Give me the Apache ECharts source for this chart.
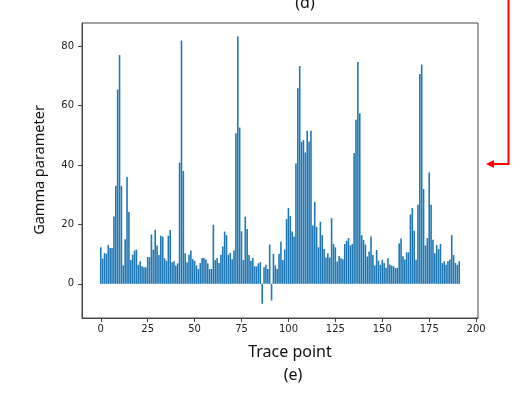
<!DOCTYPE html>
<html>
<head>
<meta charset="utf-8">
<script src="https://cdn.jsdelivr.net/npm/echarts@6/dist/echarts.min.js"></script>
<style>
html,body{margin:0;padding:0;background:#fff;}
#chart{width:528px;height:393px;}
</style>
</head>
<body>
<div id="chart"></div>
<script>
// Gamma parameter per trace point (index 0..191)
var gammaValues = [
  12.3, 8.5, 10.4, 10.1, 13.1, 12.1, 12.1, 22.7, 33, 65.4,
  77, 33, 6.2, 15, 36, 24.2, 8, 9.8, 11.2, 11.5,
  6.4, 7.6, 5.9, 5.6, 5.6, 9, 9, 16.6, 11.5, 18.2,
  12.9, 9.7, 16.2, 15.9, 8.6, 7.8, 16.2, 18.1, 7.3, 7.6,
  6.2, 6.9, 40.8, 81.9, 38, 10.3, 7.3, 9.8, 11.2, 8.3,
  7.8, 6.2, 5, 7, 8.7, 8.7, 8.2, 6.9, 5, 5,
  19.9, 8, 8.7, 7, 9.8, 12.6, 17.6, 16.4, 9.8, 10.4,
  8.3, 11.2, 50.7, 83.3, 52.6, 17.7, 8, 22.6, 18.5, 9.7,
  7.8, 8.7, 5.9, 5.9, 6.9, 7.3, -6.7, 5.6, 6.4, 5,
  13.2, -5.6, 10.1, 6.2, 5, 10.1, 14.2, 8, 11.5, 21.8,
  25.5, 22.8, 17.6, 15.9, 40.5, 65.8, 73.3, 47.8, 48.4, 44.2,
  51.5, 47.9, 51.5, 19.6, 27.6, 19.2, 12.3, 20.9, 16.4, 11.7,
  8.9, 10.3, 8.9, 22.1, 13.4, 12.3, 7.5, 9.4, 8.6, 8.3,
  13.4, 14.5, 15.4, 12.9, 13.4, 44, 55.2, 74.7, 57.4, 16.4,
  14.8, 13.2, 9.2, 10.9, 15.9, 9.7, 6.2, 11.4, 7.8, 6.4,
  8.1, 7, 5.4, 8.6, 6.5, 6.2, 5.9, 5.3, 5.4, 13.6,
  15.3, 9.3, 8.2, 10.6, 10.6, 23.3, 25.5, 17.9, 8.1, 26.6,
  70.6, 73.8, 31.9, 12.9, 15.4, 37.5, 26.6, 14.8, 10.3, 13.1,
  11.7, 13.4, 7, 7.6, 6.4, 7.6, 8.2, 16.4, 9.7, 7,
  6.4, 7.6
];
var xTickValues = [0, 25, 50, 75, 100, 125, 150, 175, 200];
var yTickValues = [0, 20, 40, 60, 80];
var xAxisTitle = 'Trace point';
var yAxisTitle = 'Gamma parameter';
var topCaption = '(d)';
var bottomCaption = '(e)';

var barData = gammaValues.map(function (v, i) { return [i, v]; });

var chart = echarts.init(document.getElementById('chart'), null, {renderer: 'canvas'});
var axisColor = '#444';
var tickFont = 'DejaVu Sans';

chart.setOption({
  animation: false,
  backgroundColor: '#fff',
  grid: {
    left: 82, right: 50, top: 23, bottom: 75,
    show: true, borderColor: axisColor, borderWidth: 1, backgroundColor: 'transparent'
  },
  xAxis: {
    type: 'value', min: -10, max: 201,
    axisLine: {show: true, onZero: false, lineStyle: {color: axisColor, width: 1}},
    axisTick: {show: true, length: 4, lineStyle: {color: axisColor}, customValues: xTickValues},
    axisLabel: {color: '#222', fontSize: 10, fontFamily: tickFont, margin: 6, customValues: xTickValues},
    splitLine: {show: false}
  },
  yAxis: {
    type: 'value', min: -11.5, max: 87.8,
    axisLine: {show: true, onZero: false, lineStyle: {color: axisColor, width: 1}},
    axisTick: {show: true, length: 4, lineStyle: {color: axisColor}, customValues: yTickValues},
    axisLabel: {color: '#222', fontSize: 10, fontFamily: tickFont, margin: 8, customValues: yTickValues},
    splitLine: {show: false}
  },
  series: [{
    type: 'bar',
    data: barData,
    barWidth: '85%',
    itemStyle: {color: '#1f77b4'}
  }],
  graphic: [
    {type: 'text', x: 305, y: 3, style: {text: topCaption, font: '16px "Noto Sans"', fill: '#111', align: 'center', verticalAlign: 'middle'}},
    {type: 'text', x: 290, y: 352, style: {text: xAxisTitle, font: '16px "Noto Sans"', fill: '#111', align: 'center', verticalAlign: 'middle'}},
    {type: 'text', x: 293, y: 375, style: {text: bottomCaption, font: '16px "Noto Sans"', fill: '#111', align: 'center', verticalAlign: 'middle'}},
    {type: 'text', x: 40, y: 170, rotation: Math.PI / 2, style: {text: yAxisTitle, font: '14.5px "Noto Sans"', fill: '#111', align: 'center', verticalAlign: 'middle'}},
    {type: 'polyline', shape: {points: [[508.5, 0], [508.5, 164], [492, 164]]}, style: {stroke: '#f00', lineWidth: 2, fill: null}},
    {type: 'polygon', shape: {points: [[486, 164], [494, 160], [494, 168]]}, style: {fill: '#f00', stroke: null}}
  ]
});
</script>
</body>
</html>
